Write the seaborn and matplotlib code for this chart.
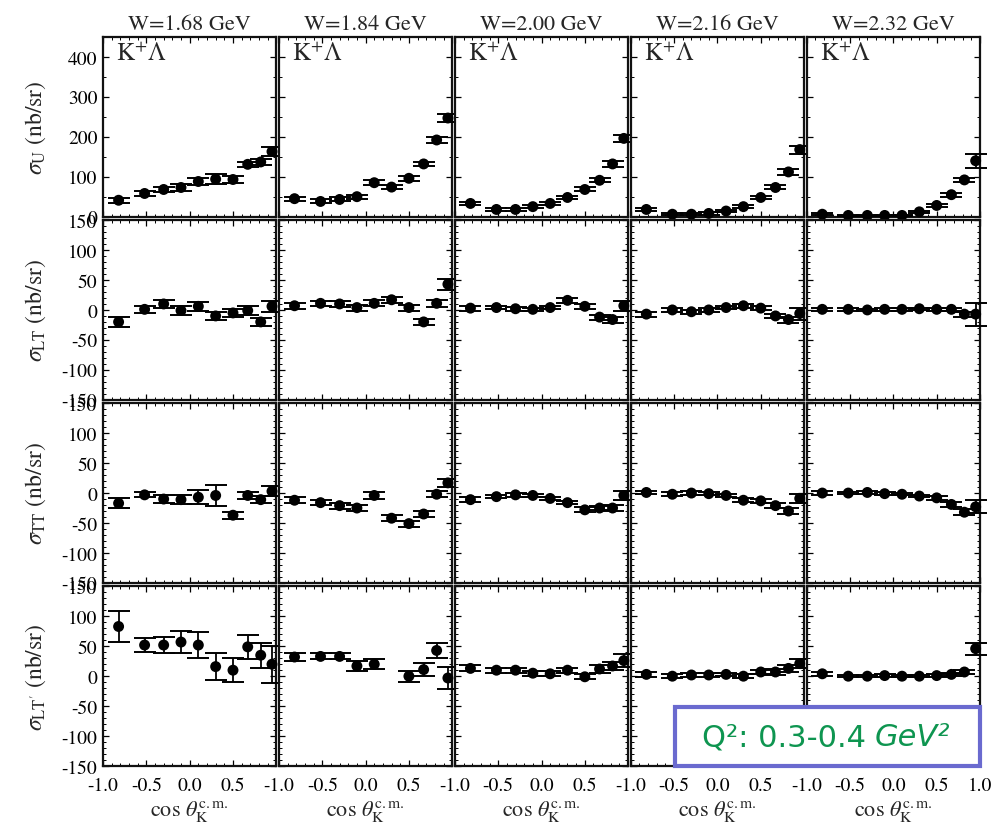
import numpy as np
import matplotlib
matplotlib.use("Agg")
import matplotlib.pyplot as plt
import seaborn as sns
import pandas as pd
from matplotlib.ticker import MultipleLocator, FormatStrFormatter, FuncFormatter
from matplotlib.patches import Rectangle

# ---- data -----------------------------------------------------------------
W_labels = ["W=1.68 GeV", "W=1.84 GeV", "W=2.00 GeV", "W=2.16 GeV", "W=2.32 GeV"]
cos_bins = [-0.82, -0.52, -0.30, -0.10, 0.10, 0.30, 0.50, 0.67, 0.82, 0.95]

nan = np.nan

sig_U = [
    [41, 58, 68, 73, 88, 94, 93, 131, 137, 163],
    [45, 38, 43, 50, 85, 74, 96, 132, 192, 247],
    [33, 18, 18, 25, 33, 48, 68, 91, 132, 196],
    [18, 6, 6, 8, 14, 25, 48, 73, 112, 168],
    [6, 3, 3, 3, 3, 12, 28, 55, 92, 140],
]
err_U = [
    [6, 6, 7, 8, 9, 12, 8, 7, 7, 12],
    [5, 5, 5, 5, 6, 6, 6, 6, 7, 11],
    [4, 4, 4, 4, 4, 4, 5, 5, 7, 8],
    [4, 3, 3, 3, 3, 4, 4, 5, 7, 10],
    [3, 2, 2, 2, 2, 3, 4, 5, 6, 18],
]

sig_LT = [
    [-20, 1, 10, -1, 6, -10, -5, -1, -20, 6],
    [7, 11, 10, 4, 11, 17, 4, -20, 11, 43],
    [3, 4, 2, 1, 4, 16, 6, -12, -16, 7],
    [-7, 0, -3, 0, 4, 7, 3, -10, -16, -6],
    [1, 1, 0, 1, 1, 2, 1, 1, -7, -7],
]
err_LT = [
    [8, 6, 7, 8, 7, 7, 7, 7, 7, 9],
    [5, 4, 5, 5, 5, 5, 5, 5, 6, 9],
    [4, 3, 3, 3, 3, 4, 4, 4, 5, 8],
    [4, 3, 3, 3, 3, 3, 3, 4, 5, 10],
    [3, 2, 2, 2, 2, 2, 2, 3, 4, 19],
]

sig_TT = [
    [-17, -3, -10, -11, -7, -4, -37, -4, -11, 3],
    [-12, -16, -21, -25, -4, -42, -51, -35, -2, 17],
    [-11, -6, -3, -4, -9, -16, -28, -25, -25, -4],
    [1, -2, 0, -1, -4, -12, -13, -21, -30, -9],
    [0, 0, 1, -1, -2, -5, -8, -19, -32, -23],
]
err_TT = [
    [8, 4, 6, 8, 12, 18, 6, 6, 6, 8],
    [5, 4, 5, 5, 6, 5, 5, 5, 5, 7],
    [4, 3, 3, 3, 3, 3, 4, 4, 5, 7],
    [3, 3, 3, 3, 3, 3, 3, 4, 5, 7],
    [3, 2, 2, 2, 2, 2, 3, 4, 5, 11],
]

sig_LTp = [
    [83, 52, 52, 57, 52, 16, 10, 49, 35, 20],
    [32, 33, 33, 17, 20, nan, 0, 11, 43, -3],
    [13, 10, 10, 5, 4, 10, -1, 12, 17, 26],
    [3, 0, 2, 2, 3, 0, 7, 7, 13, 21],
    [4, 0, 0, 1, 0, 0, 1, 3, 7, 46],
]
err_LTp = [
    [26, 12, 13, 18, 22, 22, 20, 20, 21, 31],
    [7, 5, 5, 8, 8, nan, 9, 11, 12, 18],
    [5, 4, 4, 4, 4, 4, 4, 6, 7, 11],
    [4, 3, 3, 3, 3, 3, 4, 5, 6, 8],
    [3, 2, 2, 2, 2, 2, 2, 3, 4, 10],
]

row_labels = [r"$\sigma_{\rm U}$ (nb/sr)", r"$\sigma_{\rm LT}$ (nb/sr)",
              r"$\sigma_{\rm TT}$ (nb/sr)", r"$\sigma_{\rm LT'}$ (nb/sr)"]
row_values = [sig_U, sig_LT, sig_TT, sig_LTp]
row_errors = [err_U, err_LT, err_TT, err_LTp]

# ---- style ----------------------------------------------------------------
sns.set_theme(style="ticks")
plt.rcParams.update({
    "font.family": ["STIXGeneral", "DejaVu Serif"],
    "mathtext.fontset": "stix",
    "axes.unicode_minus": False,
    "xtick.direction": "in",
    "ytick.direction": "in",
    "xtick.top": True,
    "ytick.right": True,
    "xtick.major.size": 4.5,
    "ytick.major.size": 4.5,
    "xtick.minor.size": 2.2,
    "ytick.minor.size": 2.2,
    "xtick.major.width": 0.9,
    "ytick.major.width": 0.9,
    "xtick.minor.width": 0.7,
    "ytick.minor.width": 0.7,
    "xtick.color": "black",
    "ytick.color": "black",
    "axes.edgecolor": "#111111",
    "axes.linewidth": 1.6,
})

fig, axes = plt.subplots(4, 5, figsize=(9.93, 8.29), dpi=100)
fig.subplots_adjust(left=103 / 993, right=980 / 993,
                    top=1 - 38 / 829, bottom=1 - 767 / 829,
                    wspace=2.6 / 173.4, hspace=3.5 / 180)


def cos_formatter(last_col):
    def fmt(v, pos):
        # the shared edge value is labelled only once, by the rightmost panel
        if abs(v - 1.0) < 1e-9 and not last_col:
            return ""
        return "%.1f" % v
    return FuncFormatter(fmt)


for r in range(4):
    for c in range(5):
        ax = axes[r, c]
        df = pd.DataFrame({"cos": cos_bins,
                           "sigma": np.array(row_values[r][c], dtype=float),
                           "err": np.array(row_errors[r][c], dtype=float)}).dropna()
        ax.errorbar(df["cos"], df["sigma"], yerr=df["err"], fmt="none",
                    ecolor="black", elinewidth=1.3, capsize=8, capthick=1.4,
                    clip_on=False, zorder=3)
        sns.scatterplot(data=df, x="cos", y="sigma", ax=ax, color="black",
                        s=62, edgecolor="none", clip_on=False, zorder=4,
                        legend=False)

        ax.set_xlim(-1.0, 1.0)
        ax.xaxis.set_major_locator(MultipleLocator(0.5))
        ax.xaxis.set_minor_locator(MultipleLocator(0.1))
        ax.xaxis.set_major_formatter(cos_formatter(c == 4))
        if r == 0:
            ax.set_ylim(0, 450)
            ax.yaxis.set_major_locator(MultipleLocator(100))
            ax.yaxis.set_minor_locator(MultipleLocator(50))
            ax.text(0.075, 0.975, r"$\mathrm{K}^{+}\Lambda$", transform=ax.transAxes,
                    ha="left", va="top", fontsize=18)
        else:
            ax.set_ylim(-150, 150)
            ax.yaxis.set_major_locator(MultipleLocator(50))
            ax.yaxis.set_minor_locator(MultipleLocator(10))
        ax.yaxis.set_major_formatter(FormatStrFormatter("%d"))
        ax.tick_params(axis="both", which="both", labelsize=14)
        ax.tick_params(axis="y", which="both", pad=4)
        ax.tick_params(axis="x", which="both", pad=8)

        ax.set_xlabel("")
        ax.set_ylabel("")
        if r < 3:
            ax.tick_params(axis="x", labelbottom=False)
        else:
            ax.set_xlabel(r"cos $\theta_{\rm K}^{\rm c.m.}$", fontsize=16, labelpad=3)
        if c > 0:
            ax.tick_params(axis="y", labelleft=False)
        else:
            ax.set_ylabel(row_labels[r], fontsize=17)
            ax.yaxis.set_label_coords(-0.32, 0.5)
        if r == 0:
            ax.set_title(W_labels[c], fontsize=16, pad=6)

# Q^2 bin annotation box
box = Rectangle((675 / 993, 1 - 767 / 829), 305 / 993, 59 / 829,
                transform=fig.transFigure, facecolor="white",
                edgecolor="#6A6ACF", linewidth=3, zorder=10)
fig.add_artist(box)
fig.text(866 / 993, 1 - 738 / 829, "Q\u00b2: 0.3-0.4", ha="right", va="center",
         fontsize=22, color="#0E9550", family="DejaVu Sans", zorder=11)
fig.text(875 / 993, 1 - 738 / 829, "GeV\u00b2", ha="left", va="center",
         fontsize=22, color="#0E9550", family="DejaVu Sans", style="italic",
         zorder=11)

fig.savefig("out.png", dpi=100)
